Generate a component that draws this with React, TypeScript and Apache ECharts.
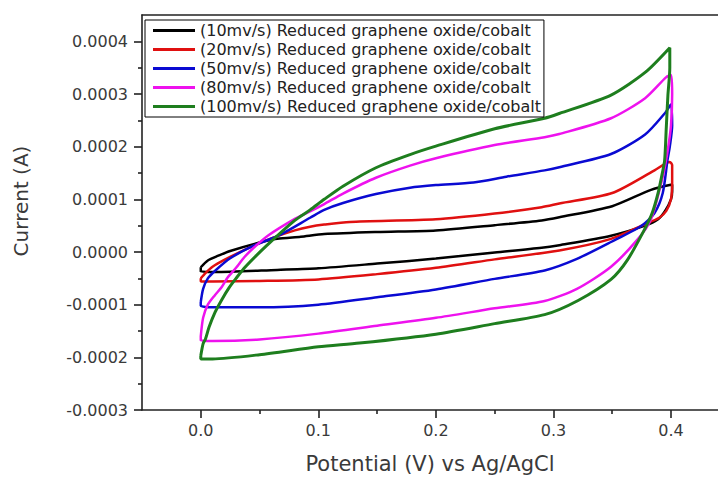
import React, { useEffect, useRef } from "react";
import * as echarts from "echarts";

// ---- Data (Potential in V, Current in A) ----
const seriesNames = [
  "(10mv/s) Reduced graphene oxide/cobalt",
  "(20mv/s) Reduced graphene oxide/cobalt",
  "(50mv/s) Reduced graphene oxide/cobalt",
  "(80mv/s) Reduced graphene oxide/cobalt",
  "(100mv/s) Reduced graphene oxide/cobalt",
];
const seriesColors = ["#000000", "#e01010", "#0a0ad2", "#ee12ee", "#1e7e1e"];

// forward (anodic) branches, 0 -> 0.4 V
const fwd10: [number, number][] = [
  [0, -2.9e-5], [0.006, -1.6e-5], [0.015, -7e-6], [0.025, 2e-6], [0.05, 1.8e-5],
  [0.065, 2.5e-5], [0.085, 2.9e-5], [0.105, 3.4e-5], [0.15, 3.8e-5], [0.2, 4.1e-5],
  [0.25, 5.1e-5], [0.29, 6.0e-5], [0.305, 6.6e-5], [0.35, 8.7e-5], [0.383, 1.18e-4], [0.401, 1.28e-4],
];
const fwd20: [number, number][] = [
  [0, -5.0e-5], [0.004, -4.0e-5], [0.01, -2.8e-5], [0.02, -1.5e-5], [0.04, 7e-6],
  [0.06, 2.6e-5], [0.08, 4.1e-5], [0.093, 4.8e-5], [0.105, 5.2e-5], [0.127, 5.7e-5],
  [0.2, 6.2e-5], [0.25, 7.3e-5], [0.29, 8.5e-5], [0.305, 9.2e-5], [0.35, 1.12e-4],
  [0.386, 1.55e-4], [0.399, 1.71e-4],
];
const fwd50: [number, number][] = [
  [0, -9.5e-5], [0.002, -7e-5], [0.006, -5e-5], [0.012, -3.6e-5], [0.025, -1.2e-5],
  [0.045, 1.2e-5], [0.066, 3.1e-5], [0.093, 6.5e-5], [0.105, 8.0e-5], [0.121, 9.3e-5],
  [0.149, 1.1e-4], [0.178, 1.22e-4], [0.2, 1.27e-4], [0.232, 1.32e-4], [0.26, 1.43e-4],
  [0.2925, 1.55e-4], [0.305, 1.61e-4], [0.349, 1.86e-4], [0.378, 2.23e-4], [0.395, 2.64e-4], [0.4, 2.8e-4],
];
const fwd80: [number, number][] = [
  [0, -1.6e-4], [0.002, -1.25e-4], [0.006, -1.0e-4], [0.012, -8.2e-5], [0.018, -6.6e-5],
  [0.023, -4.8e-5], [0.03, -3.0e-5], [0.037, -1.0e-5], [0.045, 8e-6], [0.057, 3.1e-5],
  [0.08, 6.3e-5], [0.093, 7.7e-5], [0.105, 9.1e-5], [0.121, 1.11e-4], [0.149, 1.41e-4],
  [0.178, 1.64e-4], [0.2, 1.78e-4], [0.25, 2.03e-4], [0.2925, 2.18e-4], [0.305, 2.24e-4],
  [0.349, 2.54e-4], [0.378, 2.92e-4], [0.396, 3.32e-4], [0.4, 3.36e-4],
];
const fwd100: [number, number][] = [
  [0, -1.97e-4], [0.002, -1.74e-4], [0.004, -1.65e-4], [0.007, -1.43e-4], [0.012, -1.15e-4],
  [0.018, -9.0e-5], [0.024, -6.8e-5], [0.03, -5.0e-5], [0.038, -2.8e-5], [0.056, 1.2e-5],
  [0.08, 6.0e-5], [0.093, 8.0e-5], [0.105, 1.0e-4], [0.121, 1.25e-4], [0.149, 1.6e-4],
  [0.178, 1.85e-4], [0.2, 2.01e-4], [0.25, 2.34e-4], [0.2925, 2.54e-4], [0.305, 2.63e-4],
  [0.349, 2.98e-4], [0.378, 3.41e-4], [0.399, 3.88e-4],
];

// reverse (cathodic) branches, 0.4 -> 0 V
const rev10: [number, number][] = [
  [0.401, 1.15e-4], [0.4, 1.0e-4], [0.395, 7.8e-5], [0.389, 6.2e-5], [0.378, 5.0e-5],
  [0.349, 3.1e-5], [0.305, 1.3e-5], [0.29, 8e-6], [0.25, -1e-6], [0.2, -1.25e-5],
  [0.15, -2.2e-5], [0.1, -3.1e-5], [0.065, -3.4e-5], [0.012, -3.8e-5], [0, -3.7e-5],
];
const rev20: [number, number][] = [
  [0.401, 1.65e-4], [0.401, 1.3e-4], [0.4, 1.0e-4], [0.396, 7.8e-5], [0.39, 6.5e-5],
  [0.378, 5.3e-5], [0.349, 2.5e-5], [0.305, 3e-6], [0.25, -1.4e-5], [0.2, -3.0e-5],
  [0.15, -4.2e-5], [0.1, -5.2e-5], [0.05, -5.5e-5], [0.01, -5.6e-5], [0, -5.6e-5],
];
const rev50: [number, number][] = [
  [0.401, 2.4e-4], [0.399, 2.0e-4], [0.397, 1.74e-4], [0.393, 1.12e-4], [0.386, 7.4e-5],
  [0.375, 5.0e-5], [0.349, 1.9e-5], [0.32, -1.3e-5], [0.2925, -3.5e-5], [0.25, -5.1e-5],
  [0.2, -7.1e-5], [0.15, -8.6e-5], [0.1, -1.0e-4], [0.05, -1.05e-4], [0.01, -1.05e-4], [0, -1.02e-4],
];
const rev80: [number, number][] = [
  [0.401, 3.0e-4], [0.4, 2.4e-4], [0.397, 1.9e-4], [0.393, 1.43e-4], [0.383, 6.2e-5],
  [0.372, 2.5e-5], [0.349, -2.8e-5], [0.32, -7.0e-5], [0.2925, -9.3e-5],
  [0.25, -1.07e-4], [0.2, -1.25e-4], [0.15, -1.4e-4], [0.1, -1.55e-4], [0.05, -1.66e-4],
  [0.01, -1.69e-4], [0, -1.68e-4],
];
const rev100: [number, number][] = [
  [0.399, 3.5e-4], [0.3974, 2.98e-4], [0.396, 2.36e-4], [0.3946, 1.74e-4], [0.392, 1.43e-4],
  [0.389, 1.12e-4], [0.384, 7.4e-5], [0.378, 4.5e-5], [0.363, -1.5e-5], [0.349, -5.2e-5],
  [0.321, -9.2e-5], [0.2925, -1.19e-4], [0.25, -1.36e-4], [0.2, -1.56e-4],
  [0.135, -1.73e-4], [0.1, -1.8e-4], [0.05, -1.95e-4], [0.01, -2.03e-4], [0, -2.03e-4],
];

const forwardBranches = [fwd10, fwd20, fwd50, fwd80, fwd100];
const reverseBranches = [rev10, rev20, rev50, rev80, rev100];

// axes
const xMin = -0.05;
const xMax = 0.44;
const yMin = -0.0003;
const yMax = 0.00045;
const xMajorTicks = [0, 0.1, 0.2, 0.3, 0.4];
const xMinorTicks = [0.05, 0.15, 0.25, 0.35];
const yMajorTicks = [-0.0003, -0.0002, -0.0001, 0, 0.0001, 0.0002, 0.0003, 0.0004];
const yMinorTicks = [-0.00025, -0.00015, -0.00005, 0.00005, 0.00015, 0.00025, 0.00035];
const xAxisTitle = "Potential (V) vs Ag/AgCl";
const yAxisTitle = "Current (A)";

const FONT = "DejaVu Sans";
const AXIS_COLOR = "#222222";
const TEXT_COLOR = "#3a3a3a";

export default function App() {
  const ref = useRef<HTMLDivElement>(null);

  useEffect(() => {
    if (!ref.current) return;
    const chart = echarts.init(ref.current, null, { renderer: "svg" });

    const lineStyle = { color: AXIS_COLOR, width: 1.6 };
    const baseX = { type: "value", min: xMin, max: xMax, splitLine: { show: false } };
    const baseY = { type: "value", min: yMin, max: yMax, splitLine: { show: false } };

    const option: any = {
      animation: false,
      backgroundColor: "#ffffff",
      grid: { left: 142, right: 0, top: 15, bottom: 61, containLabel: false },
      legend: {
        orient: "vertical",
        left: 145,
        top: 20,
        padding: [1, 3, 1, 8],
        itemGap: 0,
        itemWidth: 42,
        itemHeight: 3,
        icon: "rect",
        borderColor: "#000",
        borderWidth: 1,
        backgroundColor: "#fff",
        data: seriesNames,
        textStyle: { fontFamily: FONT, fontSize: 16, color: "#222", lineHeight: 19 },
      },
      xAxis: [
        {
          ...baseX,
          position: "bottom",
          axisLine: { show: true, onZero: false, lineStyle },
          axisTick: { show: true, inside: false, length: 8, customValues: xMajorTicks, lineStyle },
          axisLabel: {
            show: true,
            customValues: xMajorTicks,
            formatter: (v: number) => v.toFixed(1),
            margin: 12,
            fontFamily: FONT,
            fontSize: 16,
            color: TEXT_COLOR,
          },
          name: xAxisTitle,
          nameLocation: "middle",
          nameGap: 43,
          nameTextStyle: { fontFamily: FONT, fontSize: 21, color: TEXT_COLOR },
        },
        {
          ...baseX,
          position: "bottom",
          axisLine: { show: false, onZero: false },
          axisTick: { show: true, inside: false, length: 4, customValues: xMinorTicks, lineStyle },
          axisLabel: { show: false },
        },
        {
          ...baseX,
          position: "top",
          axisLine: { show: true, onZero: false, lineStyle },
          axisTick: { show: false },
          axisLabel: { show: false },
        },
      ],
      yAxis: [
        {
          ...baseY,
          position: "left",
          axisLine: { show: true, onZero: false, lineStyle },
          axisTick: { show: true, inside: false, length: 8, customValues: yMajorTicks, lineStyle },
          axisLabel: {
            show: true,
            customValues: yMajorTicks,
            formatter: (v: number) => v.toFixed(4),
            margin: 14,
            fontFamily: FONT,
            fontSize: 16,
            color: TEXT_COLOR,
          },
        },
        {
          ...baseY,
          position: "left",
          axisLine: { show: false, onZero: false },
          axisTick: { show: true, inside: false, length: 4, customValues: yMinorTicks, lineStyle },
          axisLabel: { show: false },
        },
      ],
      graphic: [
        {
          type: "text",
          x: 21,
          y: 201,
          rotation: Math.PI / 2,
          style: {
            text: yAxisTitle,
            fontFamily: FONT,
            fontSize: 20,
            fill: TEXT_COLOR,
            align: "center",
            verticalAlign: "middle",
          },
        },
      ],
      series: seriesNames.map((name, i) => ({
        name,
        type: "line",
        xAxisIndex: 0,
        yAxisIndex: 0,
        showSymbol: false,
        symbol: "none",
        smooth: 0.25,
        color: seriesColors[i],
        lineStyle: { color: seriesColors[i], width: i === 4 ? 3 : 2.5 },
        data: [...forwardBranches[i], ...reverseBranches[i], forwardBranches[i][0]],
      })),
    };

    chart.setOption(option);
    return () => chart.dispose();
  }, []);

  return (
    <div
      ref={ref}
      style={{ position: "fixed", left: 0, top: 0, width: 718, height: 479 }}
    />
  );
}
